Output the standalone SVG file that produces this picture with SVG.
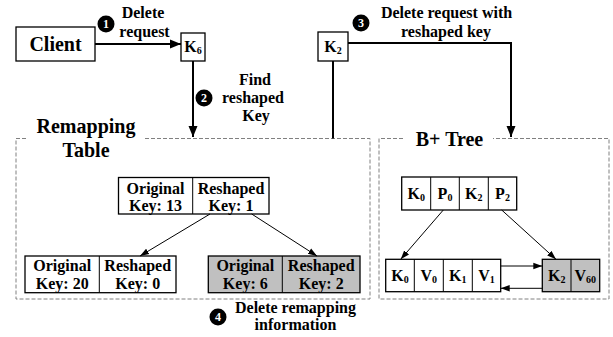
<svg xmlns="http://www.w3.org/2000/svg" width="613" height="337" viewBox="0 0 613 337">
<defs>
<marker id="ah" markerUnits="userSpaceOnUse" markerWidth="12" markerHeight="10" refX="11" refY="5" orient="auto"><path d="M0,0.5 L11,5 L0,9.5 z" fill="#000"/></marker>
<marker id="ahs" markerUnits="userSpaceOnUse" markerWidth="10" markerHeight="8" refX="9" refY="4" orient="auto"><path d="M0,0.8 L9,4 L0,7.2 z" fill="#000"/></marker>
</defs>
<style>
text{font-family:"Liberation Serif","Times New Roman",serif;font-weight:bold;fill:#000;text-anchor:middle}
.t16{font-size:16px}
.t20{font-size:20px}
.box{fill:#fff;stroke:#000;stroke-width:1.3}
.g{fill:#c0c0c0;stroke:#000;stroke-width:1.3}
.dash{fill:none;stroke:#808080;stroke-width:1;stroke-dasharray:4,2}
.thick{fill:none;stroke:#000;stroke-width:2}
.thin{fill:none;stroke:#000;stroke-width:1}
.num{fill:#fff;font-size:12px}
.sub{font-size:10px}
</style>

<g id="remapping-container">
<path class="dash" d="M26,138.5 H16 V299 H370 V138.5 H145"/>
<text class="t20" x="86" y="133">Remapping</text>
<text class="t20" x="86" y="157">Table</text>
</g>
<g id="bplus-container">
<path class="dash" d="M403,138.5 H379 V299 H609 V138.5 H493"/>
<text class="t20" x="449.5" y="146">B+ Tree</text>
</g>

<g id="client">
<rect class="box" x="16" y="27" width="79" height="34"/>
<text class="t20" x="55.5" y="51">Client</text>
</g>
<g id="k6">
<rect class="box" x="181" y="33" width="24" height="28"/>
<text class="t16" x="193" y="52">K<tspan class="sub" dy="2">6</tspan></text>
</g>
<g id="k2">
<rect class="box" x="318" y="32" width="30" height="29"/>
<text class="t16" x="333" y="52">K<tspan class="sub" dy="2">2</tspan></text>
</g>

<g id="remap-root">
<rect class="box" x="118.5" y="177.5" width="150.5" height="36.5"/>
<line class="thin" x1="192.7" y1="177.5" x2="192.7" y2="214"/>
<text class="t16" x="155.5" y="194">Original</text>
<text class="t16" x="155.5" y="211">Key: 13</text>
<text class="t16" x="231" y="194">Reshaped</text>
<text class="t16" x="231" y="211">Key: 1</text>
</g>
<g id="remap-left">
<rect class="box" x="25" y="256" width="151" height="36.7"/>
<line class="thin" x1="99.3" y1="256" x2="99.3" y2="292.7"/>
<text class="t16" x="62.2" y="271">Original</text>
<text class="t16" x="62.2" y="288.5">Key: 20</text>
<text class="t16" x="137.7" y="271">Reshaped</text>
<text class="t16" x="137.7" y="288.5">Key: 0</text>
</g>
<g id="remap-right">
<rect class="g" x="208.3" y="256" width="151.7" height="36.7"/>
<line class="thin" x1="282.3" y1="256" x2="282.3" y2="292.7"/>
<text class="t16" x="245.3" y="271">Original</text>
<text class="t16" x="245.3" y="288.5">Key: 6</text>
<text class="t16" x="321.2" y="271">Reshaped</text>
<text class="t16" x="321.2" y="288.5">Key: 2</text>
</g>

<g id="bplus-root">
<rect class="box" x="401.7" y="177" width="115" height="33"/>
<line class="thin" x1="430.7" y1="177" x2="430.7" y2="210"/>
<line class="thin" x1="459.3" y1="177" x2="459.3" y2="210"/>
<line class="thin" x1="488.3" y1="177" x2="488.3" y2="210"/>
<text class="t16" x="416.2" y="199">K<tspan class="sub" dy="2">0</tspan></text>
<text class="t16" x="445" y="199">P<tspan class="sub" dy="2">0</tspan></text>
<text class="t16" x="473.8" y="199">K<tspan class="sub" dy="2">2</tspan></text>
<text class="t16" x="502.5" y="199">P<tspan class="sub" dy="2">2</tspan></text>
</g>
<g id="bplus-leaf-left">
<rect class="box" x="385.7" y="259.3" width="115" height="32.4"/>
<line class="thin" x1="414.3" y1="259.3" x2="414.3" y2="291.7"/>
<line class="thin" x1="443.3" y1="259.3" x2="443.3" y2="291.7"/>
<line class="thin" x1="472.3" y1="259.3" x2="472.3" y2="291.7"/>
<text class="t16" x="400" y="281">K<tspan class="sub" dy="2">0</tspan></text>
<text class="t16" x="428.8" y="281">V<tspan class="sub" dy="2">0</tspan></text>
<text class="t16" x="457.8" y="281">K<tspan class="sub" dy="2">1</tspan></text>
<text class="t16" x="486.5" y="281">V<tspan class="sub" dy="2">1</tspan></text>
</g>
<g id="bplus-leaf-right">
<rect class="g" x="542.3" y="259.3" width="57.4" height="32.4"/>
<line class="thin" x1="571" y1="259.3" x2="571" y2="291.7"/>
<text class="t16" x="556.7" y="281">K<tspan class="sub" dy="2">2</tspan></text>
<text class="t16" x="585.3" y="281">V<tspan class="sub" dy="2">60</tspan></text>
</g>

<g id="step1">
<circle cx="106" cy="24" r="8.5" fill="#000"/>
<text class="num" x="106" y="28.2">1</text>
<text class="t16" x="143" y="18">Delete</text>
<text class="t16" x="144.5" y="36.5">request</text>
</g>
<g id="step2">
<circle cx="204" cy="98" r="8.5" fill="#000"/>
<text class="num" x="204" y="102.2">2</text>
<text class="t16" x="255" y="85">Find</text>
<text class="t16" x="253" y="103">reshaped</text>
<text class="t16" x="256" y="121">Key</text>
</g>
<g id="step3">
<circle cx="361" cy="23" r="8.5" fill="#000"/>
<text class="num" x="361" y="27.2">3</text>
<text class="t16" x="446.5" y="18">Delete request with</text>
<text class="t16" x="446" y="37">reshaped key</text>
</g>
<g id="step4">
<circle cx="218" cy="317" r="8.5" fill="#000"/>
<text class="num" x="218" y="321.2">4</text>
<text class="t16" x="295.5" y="313">Delete remapping</text>
<text class="t16" x="295.5" y="330">information</text>
</g>

<g id="connectors">
<line class="thick" x1="95" y1="44" x2="181" y2="44" marker-end="url(#ah)"/>
<line class="thick" x1="193" y1="61" x2="193" y2="137" marker-end="url(#ah)"/>
<polyline class="thick" points="348,43 511,43 511,137" marker-end="url(#ah)"/>
<line class="thick" x1="333" y1="61" x2="333" y2="138.5"/>
<line class="thin" x1="210" y1="214" x2="140" y2="256" marker-end="url(#ahs)"/>
<line class="thin" x1="251.7" y1="214" x2="317" y2="256" marker-end="url(#ahs)"/>
<line class="thin" x1="443.3" y1="210" x2="400.7" y2="259.3" marker-end="url(#ahs)"/>
<line class="thin" x1="501.7" y1="210" x2="556" y2="259.3" marker-end="url(#ahs)"/>
<line class="thin" x1="500.7" y1="266" x2="542.3" y2="266" marker-end="url(#ahs)"/>
<line class="thin" x1="542.3" y1="288.3" x2="500.7" y2="288.3" marker-end="url(#ahs)"/>
</g>
</svg>
